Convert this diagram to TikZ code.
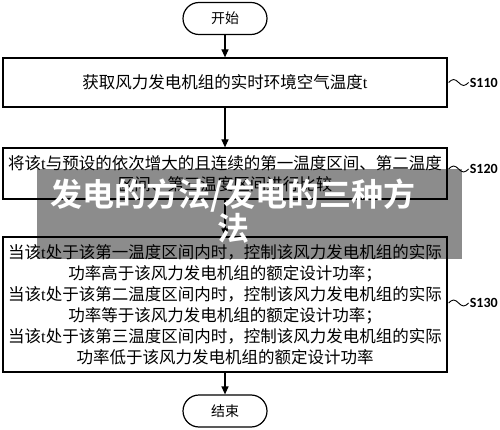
\documentclass[tikz,border=0pt]{standalone}
\usepackage{fontspec}
\setmainfont{Carlito}
\newfontfamily\cjk[BoldFont={Noto Sans CJK SC Bold}]{Noto Sans CJK SC}
\newfontfamily\latfont{Liberation Serif}
\newcommand\tvar{{\latfont t}}
\usetikzlibrary{arrows.meta}
\tikzset{
  term/.style={draw, line width=1.2pt, rounded corners=16pt, minimum width=84pt, minimum height=32pt, inner sep=0pt, font=\cjk\fontsize{14}{16}\selectfont},
  proc/.style={draw, line width=1.2pt, minimum width=444pt, inner sep=2pt, align=center, font=\cjk\fontsize{16.5}{21}\selectfont},
  arr/.style={line width=1.2pt, -{Triangle[length=8pt,width=7pt]}},
  wave/.style={line width=0.9pt},
  lab/.style={anchor=west, inner sep=0pt, font=\bfseries\fontsize{14}{16}\selectfont},
  band/.style={fill=black, fill opacity=0.45, draw=none, minimum width=425pt, minimum height=90pt, inner sep=0pt},
  wmtext/.style={text=white, align=center, inner sep=0pt, font=\cjk\bfseries\fontsize{32}{32}\selectfont}
}
\begin{document}
\begin{tikzpicture}[x=1pt,y=-1pt]
\useasboundingbox (0,0) rectangle (500,430);
\node[term] (start) at (225,18.5) {开始};
\node[proc, minimum height=49pt] (s110) at (225,82.5) {获取风力发电机组的实时环境空气温度\tvar};
\node[proc, minimum height=51pt] (s120) at (225,173.5) {将该\tvar 与预设的依次增大的且连续的第一温度区间、第二温度\\区间、第三温度区间进行比较};
\node[proc, minimum height=135pt] (s130) at (225,304.5) {当该\tvar 处于该第一温度区间内时，控制该风力发电机组的实际\\功率高于该风力发电机组的额定设计功率；\\当该\tvar 处于该第二温度区间内时，控制该风力发电机组的实际\\功率等于该风力发电机组的额定设计功率；\\当该\tvar 处于该第三温度区间内时，控制该风力发电机组的实际\\功率低于该风力发电机组的额定设计功率};
\node[term] (end) at (225,411) {结束};
\draw[arr] (start) -- (s110);
\draw[arr] (s110) -- (s120);
\draw[arr] (s120) -- (s130);
\draw[arr] (s130) -- (end);
\draw[wave] (s110.east) ++(1,0) sin ++(5,-3) cos ++(5,3) sin ++(5,3) cos ++(5,-3) coordinate (w1);
\node[lab] (l1) at ([xshift=1pt]w1) {S110};
\draw[wave] ([yshift=4.5pt]s120.east) ++(1,0) sin ++(5,-3) cos ++(5,3) sin ++(5,3) cos ++(5,-3) coordinate (w2);
\node[lab] (l2) at ([xshift=1pt]w2) {S120};
\draw[wave] ([yshift=1.5pt]s130.east) ++(1,0) sin ++(5,-3) cos ++(5,3) sin ++(5,3) cos ++(5,-3) coordinate (w3);
\node[lab] (l3) at ([xshift=1pt]w3) {S130};
\node[band] (wm) at (249.5,214) {};
\node[wmtext] (wmt) at (233,211) {发电的方法/发电的三种方\\法};
\end{tikzpicture}
\end{document}
